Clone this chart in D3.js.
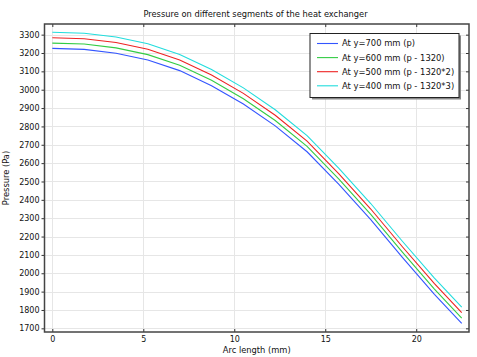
<!DOCTYPE html>
<html>
<head>
<meta charset="utf-8">
<script src="https://cdn.jsdelivr.net/npm/d3@7"></script>
<style>
  html, body { margin: 0; padding: 0; background: #fff; }
  svg { display: block; font-family: "DejaVu Sans", sans-serif; }
</style>
</head>
<body>
<svg id="chart" width="477" height="357"></svg>
<script>
const arcLength = [0, 1.75, 3.5, 5.25, 7, 8.75, 10.5, 12.25, 14, 15.75, 17.5, 19.25, 21, 22.5];
const seriesNames = [
  "At y=700 mm (p)",
  "At y=600 mm (p - 1320)",
  "At y=500 mm (p - 1320*2)",
  "At y=400 mm (p - 1320*3)"
];
const y700 = [3225, 3220, 3199, 3162, 3104, 3022, 2922, 2803, 2662, 2484, 2292, 2085, 1885, 1727];
const y600 = [3254, 3249, 3228, 3191, 3133, 3051, 2951, 2832, 2691, 2513, 2321, 2114, 1914, 1756];
const y500 = [3283, 3278, 3257, 3220, 3162, 3080, 2980, 2861, 2720, 2542, 2350, 2143, 1943, 1786];
const y400 = [3313, 3308, 3287, 3250, 3192, 3110, 3010, 2891, 2750, 2572, 2380, 2173, 1973, 1816];
const seriesColors = ["#3355ff", "#33cc44", "#ee2222", "#22dddd"];
const xTicks = [0, 5, 10, 15, 20];
const yTicks = [1700, 1800, 1900, 2000, 2100, 2200, 2300, 2400, 2500, 2600, 2700, 2800, 2900, 3000, 3100, 3200, 3300];
const titleText = "Pressure on different segments of the heat exchanger";
const xLabel = "Arc length (mm)";
const yLabel = "Pressure (Pa)";

const allSeries = [y700, y600, y500, y400];

const svg = d3.select("#chart");
const L = 44.5, R = 469, T = 24, B = 332;

const x = d3.scaleLinear().domain([-0.43, 22.9]).range([L, R]);
const y = d3.scaleLinear().domain([1680, 3358]).range([B, T]);

// grid
const grid = svg.append("g");
grid.selectAll("line.gx").data(xTicks).join("line")
  .attr("x1", d => Math.round(x(d)) + 0.5).attr("x2", d => Math.round(x(d)) + 0.5)
  .attr("y1", T).attr("y2", B)
  .attr("stroke", "#e6e6e6").attr("stroke-width", 1);
grid.selectAll("line.gy").data(yTicks).join("line")
  .attr("y1", d => Math.round(y(d)) + 0.5).attr("y2", d => Math.round(y(d)) + 0.5)
  .attr("x1", L).attr("x2", R)
  .attr("stroke", "#e6e6e6").attr("stroke-width", 1);

// lines
const line = d3.line().x((d, i) => x(arcLength[i])).y(d => y(d));
svg.append("g").selectAll("path").data(allSeries).join("path")
  .attr("d", d => line(d))
  .attr("fill", "none")
  .attr("stroke", (d, i) => seriesColors[i])
  .attr("stroke-width", 1.1);

// axes
const fmt = d3.format("d");
const axL = d3.axisLeft(y).tickValues(yTicks).tickSize(3).tickFormat(fmt);
const axB = d3.axisBottom(x).tickValues(xTicks).tickSize(-3).tickFormat(fmt);
const axT = d3.axisTop(x).tickValues(xTicks).tickSize(-3).tickFormat("");
const axR = d3.axisRight(y).tickValues(yTicks).tickSize(-3).tickFormat("");

function styleAxis(g) {
  g.select(".domain").remove();
  g.selectAll(".tick line").attr("stroke", "#333");
  g.selectAll(".tick text").attr("fill", "#111").attr("font-size", 8)
    .attr("font-family", "DejaVu Sans, sans-serif");
}
svg.append("g").attr("transform", `translate(${L},0)`).call(axL).call(styleAxis)
  .selectAll(".tick text").attr("x", -5).attr("dy", "0.33em");
svg.append("g").attr("transform", `translate(0,${B})`).call(axB).call(styleAxis)
  .selectAll(".tick text").attr("y", 4).attr("dy", "0.71em");
svg.append("g").attr("transform", `translate(0,${T})`).call(axT).call(styleAxis);
svg.append("g").attr("transform", `translate(${R},0)`).call(axR).call(styleAxis);

// frame
svg.append("rect").attr("x", L).attr("y", T).attr("width", R - L).attr("height", B - T)
  .attr("fill", "none").attr("stroke", "#444").attr("stroke-width", 1.5);

// title and labels
svg.append("text").attr("x", 255.5).attr("y", 17).attr("text-anchor", "middle")
  .attr("font-size", 8.3).attr("fill", "#111").text(titleText);
svg.append("text").attr("x", (L + R) / 2).attr("y", 353).attr("text-anchor", "middle")
  .attr("font-size", 8.3).attr("fill", "#111").text(xLabel);
svg.append("text").attr("transform", `translate(9,${(T + B) / 2}) rotate(-90)`)
  .attr("text-anchor", "middle").attr("font-size", 8.3).attr("fill", "#111").text(yLabel);

// legend
const lg = svg.append("g");
const lx = 310, ly = 33.5, lw = 149, lh = 64;
lg.append("rect").attr("x", lx + 2).attr("y", ly + 2).attr("width", lw).attr("height", lh)
  .attr("fill", "#888");
lg.append("rect").attr("x", lx).attr("y", ly).attr("width", lw).attr("height", lh)
  .attr("fill", "#fff").attr("stroke", "#222").attr("stroke-width", 1);
const items = lg.selectAll("g.item").data(seriesNames).join("g")
  .attr("transform", (d, i) => `translate(${lx},${ly + 10 + i * 14.1})`);
items.append("line").attr("x1", 7).attr("x2", 28).attr("y1", 0).attr("y2", 0)
  .attr("stroke", (d, i) => seriesColors[i]).attr("stroke-width", 1.1);
items.append("text").attr("x", 32).attr("y", 0).attr("dy", "0.35em")
  .attr("font-size", 8.4).attr("fill", "#111").text(d => d);
</script>
</body>
</html>
